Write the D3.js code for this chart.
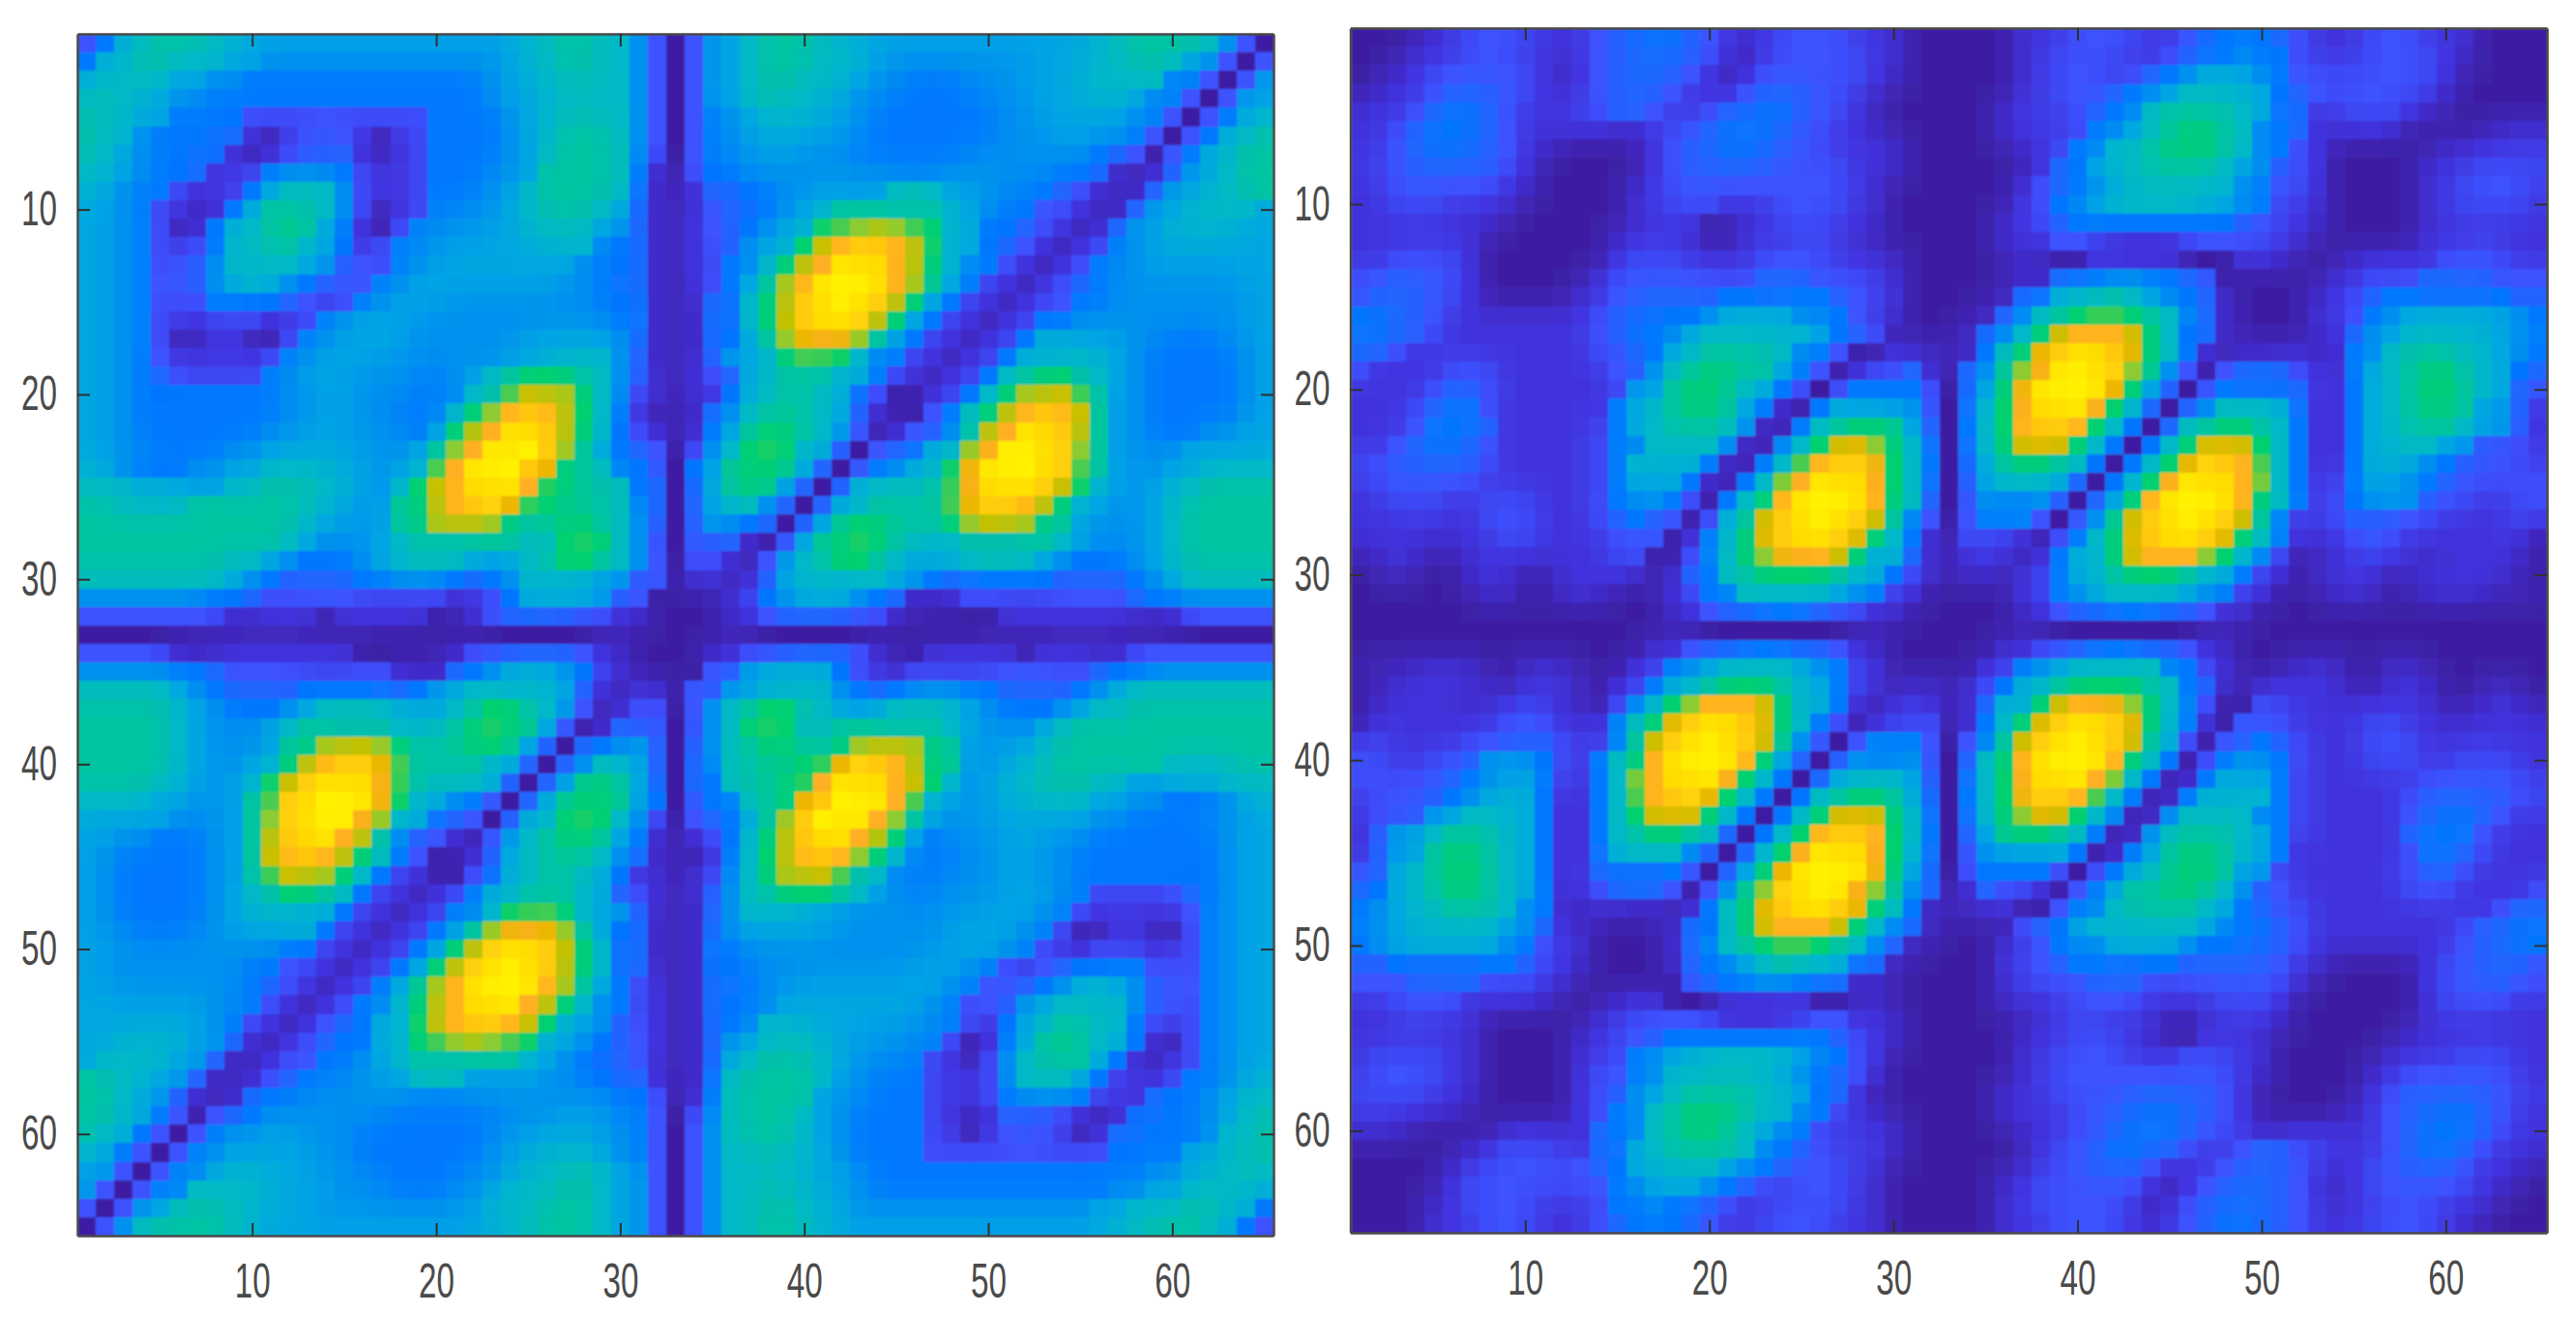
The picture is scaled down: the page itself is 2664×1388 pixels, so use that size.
<!DOCTYPE html>
<html>
<head>
<meta charset="utf-8">
<script src="https://cdn.jsdelivr.net/npm/d3@7"></script>
<style>
  html, body { margin: 0; background: #fff; }
  svg { display: block; }
  .tick text { font-family: "Liberation Sans", Arial, sans-serif; fill: #4a4a4a; }
</style>
</head>
<body>
<svg id="chart" width="2664" height="1388"></svg>
<script>
// colour levels, low to high
const levelColors = ["#3e1fa3", "#4032dc", "#3d52ff", "#2066ff", "#0078ff", "#0090f0", "#00a6e2", "#00b8c8", "#00c4a0", "#00d070",
    "#48cc50", "#8ccc30", "#c8c000", "#e8b800", "#ffb020", "#ffc810", "#ffe000", "#ffff00"];
const tickValues = [10, 20, 30, 40, 50, 60];

// one string per image row, one level character (base 36) per cell, spaces only for reading
const leftRows = [
"2467888776666666 6666666677887752 0 2567888776666666 6666667788887520",
"4678877766555555 5555555677887752 0 2567888777655555 5556667788765202",
"6777766554444444 4444445667787752 0 2567887776554445 5566677777542025",
"7877655444444444 4444445667777752 0 2567877765544444 5556667765420256",
"8776644442222222 2224444567787752 0 2456777665444444 4556666654202467",
"8775444431012221 0124444567888752 0 2456666655444444 4555665542024678",
"8765444310123331 0124444567888752 0 2455665554444445 5555554320246788",
"7765443112455542 1124445568888741 0 2445555555555555 5555443101356788",
"7654421124677752 1124445678888741 0 1334455666677766 5544321013567788",
"6654210146888752 0124555678887631 0 1233456788888876 5442210135677776",
"6654201467898641 0245556677776531 0 12345679abcba976 4432101356777766",
"6654212477887641 2455666667775431 0 1235679ceffec976 4321012456666666",
"6654223577776532 2456666666654431 0 124579cegggec975 4210124556666666",
"6654223567654322 4566666666554431 0 12468beghhgeb864 2101234555555566",
"6654222444432124 5666555555554431 0 13479cfghgfc9642 1012244555555556",
"6654211222112456 6655555555555441 0 13479cfggfc96421 0124455555555566",
"6654200110024566 6655555566666531 0 13468bdedb864210 1246666655444556",
"6654211111245666 6555555667777531 0 135679aa97542101 2467777654444456",
"6654322222456665 5554567899987531 0 1236788876421012 4789987654444456",
"6654444444455665 5544578accb97521 0 1146788764200124 79bcca8654444456",
"6654444444455665 544579befec97410 0 1357888763100247 9cefec8654444456",
"6654444444556665 55469ceggfc97421 0 1468998752012358 ceggfc8654445566",
"6655444455666666 5568begghfb86432 0 2579a9763023467b eghgfb8655566666",
"7654445566777766 567aeghhfd987542 0 468998630245679d ghhgfa8655667777",
"7776666677888776 579cegggea988743 0 36898630367778ae gggfc97656778888",
"8877778888887765 689ceffda9888753 0 36775303678888ad ffec976556788888",
"8888888888887665 689bccb988998753 0 355430368998889b ccb9865556788888",
"8888888888876555 67888888779a9752 0 233102689a987778 8888765556788888",
"8888888877654445 6777766678998752 0 2210257899876667 7776544456788888",
"7777777765433334 4555434577776532 0 1101367777765434 4444333345677777",
"5555555443222222 2222112466665320 0 0012456665431112 2222222234455555",
"2222222211111011 1110012333322110 0 0011233332210000 0111111111122222",
"0000000000000000 0000000000000000 0 0000000000000000 0000000000000000",
"2222211111111110 0000122333321100 0 0112233332100111 1101111122222222",
"5555544322222222 2111345666542100 0 0235666642112222 2222223445555555",
"7777765433334444 4345677777631011 0 2356777754345554 4333345677777777",
"8888876544456777 7666789987520122 0 2578998766677776 5444567788888888",
"8888876555678888 877789a986201332 0 2579a97788888876 5556788888888888",
"8888876555689bcc b988899863034553 0 357899889bccb986 5667888888888888",
"888887655679ceff da88887630357763 0 3578889adffec986 5677888888777788",
"88887765679cfggg ea87776303689863 0 347889aegggec975 6778887766666777",
"7777665568afghhg d976542036899864 0 245789dfhhgea765 6677776655444567",
"6666655568bfghge b7643203679a9752 0 23468bfhggeb8655 6666665544445566",
"6655444568cfggec 8532102578998641 0 12479cfggec96455 5666554444444566",
"6544444568cefec9 7420013678887531 0 01479cefeb975445 5665544444444566",
"6544444568accb97 4210024678876411 0 12579bcca8754455 5665544444444566",
"6544444567899874 2101246788876321 0 1357899987654555 5666542222234566",
"6544444567777642 10124579aa976531 0 1357777665555556 6665421111124566",
"6554445566666421 012468bdedb86431 0 1356666655555566 6654200110024566",
"6655555555544210 12469cfggfc97431 0 1445555555555566 6542112221124566",
"6555555554422101 2469cfghgfc97431 0 1344555555556665 4212344442224566",
"6655555554321012 468beghhgeb86421 0 1344556666666654 2234567653224566",
"6666666554210124 579cegggec975421 0 1344566666666542 2356777753224566",
"6666666542101234 679ceffec9765321 0 1345777666665542 1467887742124566",
"6677776531012344 679abcba97654321 0 1356777766555420 1468987641024566",
"6777765310122445 6788888876543321 0 1367888765554210 2578886410124566",
"8877653101234455 6677766665544331 0 1478888765444211 2577764211244567",
"8876531013445555 5555555555555442 0 1478888655444211 2455542113445677",
"8876420234555555 5444444555665542 0 2578887654444210 1333210134445678",
"8764202455665554 4444445566666542 0 2578887654444210 1222101344445778",
"7642024566666554 4444445667776542 0 2577877654444222 2222222444466778",
"6520245677666555 4444455677787652 0 2577777665444444 4444444445567787",
"5202457777766655 5444556777887652 0 2577877665444444 4444444556677776",
"2025678877666555 5555567778887652 0 2577887765555555 5555556677788764",
"0257888877666666 6666666778887652 0 2577887766666666 6666666778887642"
];

const rightRows = [
"0000112222111233 4432111222211100 0 0001112222112344 4321112221110000",
"0001112221111233 4332101222221100 0 0001122221123445 4421112222110000",
"0011222222101233 3321012222221100 0 0001122212345666 5422222222100000",
"0111233322111233 3211123332211000 0 0001122234567777 6432222221100000",
"1112344321112233 2112334432210000 0 0011212345788887 6431122211000000",
"1123444321111111 1223444322111000 0 0011112456789987 5431111100000111",
"1123443321100000 1233443322111100 0 0001124577899987 5421000000111111",
"1223333321000000 1233333222211100 0 0000134677888876 5321000001112222",
"1122222211000001 1222222222211000 0 0001234567777775 4221000001122221",
"1122211110000001 1222111222211000 0 0001245677777665 4211000001122221",
"1111111100000001 1110011222111000 0 0011234444444443 2211000001111111",
"1111111000000011 1110011112110000 0 0011122211112222 2110000001112111",
"1122221000000012 2211112222111100 0 0001000111110001 1100011111222211",
"2233221000000122 2222223332221100 0 0001134455443200 0000112223333222",
"2333221000001123 3333444444322100 0 0013467787654310 0001123444444433",
"4433211111111233 4445666655421100 0 0135789aa9875310 0001124566666654",
"4433211111111234 4567777776432000 0 13579ceeec974310 0001135677777654",
"3321111111111223 4678888754200111 0 1479dfggfd974101 1110145788877654",
"2111122211111123 5789988642012231 0 358beghgfb852023 3321146789987643",
"1111233211111125 6899876420244442 0 369dghhgd9630244 4431146789987632",
"1112344211111146 7899864104666652 0 479eggge97303577 7641146789986531",
"1112444311111246 7888751047899863 0 479effe974037899 8741146788876531",
"1123443211111245 7777510579cdb974 0 479cdc9740479cdc 9741146777653221",
"2233333211111247 77641047aeffd974 0 368998740479dffe a741146765432221",
"1222222111111246 6641047beggge974 0 36777630479eggge b741246654322222",
"1122211222111245 5420479eghhge973 0 2555530369eghhge 9741245553221122",
"1111111222111234 320268cfghgfc852 0 244420258cfghgfc 8521233322111121",
"1111111122111122 201479dfggfd9741 0 222102479dfggfd9 7411122211111110",
"0111001111111122 002579bdeec97631 0 111014679ceeeb97 5200112110111110",
"0010001110011111 0134789999876421 0 1101246789998764 2101111011111100",
"0000000110011100 0124577777654210 0 0001245677776542 1000111001111010",
"0000000000000000 0112334443221100 0 0001123344433211 0000000000000000",
"0000000000000000 0000000000000000 0 0000000000000000 0000000000000000",
"0000000000000000 1123344433211000 0 0011223444332110 0000000000000000",
"0101111001110001 2456777765421000 0 0124567777754210 0011100110000000",
"0011111101111012 4678999876421011 0 1246789999874310 1111100111000100",
"0111110112110025 79beeec976410111 0 13679ceedb975200 2211111111001110",
"0111111122211147 9dfggfd974201222 0 1479dfggfd974102 2211112211111111",
"1211112233321258 cfghgfc852024442 0 258cfghgfc862023 4321112221111111",
"2211223555421479 eghhge9630355552 0 379eghhge9740245 5421112221122211",
"222223456642147b eggge97403677763 0 479egggeb7401466 6421111112222221",
"122234567641147a effd974047899863 0 479dffea74014677 7421111123333322",
"1223567776411479 cdc9740479cdc974 0 479bdc9750157777 5421111123443211",
"1356788876411478 998730479effe974 0 3689987401578887 6421111134442111",
"1356899876411467 77530379eggge974 0 2566664014689987 6411111124432111",
"2367899876411344 4420369dghhgd963 0 2444420246789986 5211111123321111",
"3467899876411233 320258bfghgeb853 0 1322102468899875 3211111122211112",
"4567788875410111 101479dfggfd9741 0 1110024578888764 3221111111111233",
"4567777765311000 013479ceeec97531 0 0002346777777654 4321111111123344",
"4566666654211000 0135789aa9875310 0 0011245566665444 3321111111123344",
"3344444443211000 0134567877643100 0 0012234444443333 3211000001223332",
"2223333222110000 0023445544311000 0 0011222333222222 2210000001223322",
"1122221111100011 1000111110001000 0 0011112222111122 2100000001222211",
"1112111000000112 2222111122211100 0 0000112111100111 1100000001111111",
"1111111000001122 3444444444321100 0 0001112221100111 1000000011111111",
"1222211000001124 5667777765421000 0 0001122221112221 1000000111122211",
"1222211000001224 5777777654321000 0 0001122222222221 1000001122222211",
"2222111000001235 6788887764310000 0 0011122223333321 0000001233333221",
"1111110000001245 7899987754211000 0 0011112233443321 0000011233443211",
"1110000011111345 7899876542111100 0 0001112234443221 1111111234443211",
"0000001122211346 7888875432121100 0 0000122344332112 3322111234432111",
"0000011222222346 7777654322211000 0 0001122333211123 3321112233321110",
"0000012222222245 6665432122211000 0 0011222222101233 3321012222221100",
"0000112222111244 5443211222211000 0 0011222221012334 3321111222111000",
"0000111222111234 4432112222111000 0 0011122221112344 3321112222110000"
];

const svg = d3.select("#chart");
const color = d3.scaleLinear().domain(d3.range(levelColors.length)).range(levelColors);

// the reference is a blurry screenshot, so soften the cells a little
svg.append("defs").append("filter").attr("id", "soft")
    .attr("x", 0).attr("y", 0).attr("width", 1).attr("height", 1)
    .append("feGaussianBlur").attr("stdDeviation", 0.9).attr("edgeMode", "duplicate");

function parseRows(rows) {
    return rows.map(r => Array.from(r.replace(/ /g, ""), ch => parseInt(ch, 36)));
}

// levels were read in whole steps; for colouring only, ease a cell towards neighbours
// that are within one step so the steps don't show. Bigger jumps stay sharp.
function easeSteps(grid, r, c) {
    let sum = 0, total = 0;
    for (let dr = -1; dr <= 1; dr++) {
        for (let dc = -1; dc <= 1; dc++) {
            const v = grid[r + dr]?.[c + dc];
            if (v === undefined || Math.abs(v - grid[r][c]) > 1) continue;
            const w = (2 - Math.abs(dr)) * (2 - Math.abs(dc));
            sum += w * v;
            total += w;
        }
    }
    return sum / total;
}

function drawPanel(id, rows, left, right, top, bottom) {
    const grid = parseRows(rows);
    const cells = grid.flatMap((row, r) => row.map((v, c) => ({ r: r + 1, c: c + 1, v, shade: easeSteps(grid, r, c) })));
    const x = d3.scaleLinear().domain([0.5, 65.5]).range([left, right]);
    const y = d3.scaleLinear().domain([0.5, 65.5]).range([top, bottom]);
    const g = svg.append("g");

    g.append("clipPath").attr("id", id).append("rect")
        .attr("x", left).attr("y", top).attr("width", right - left).attr("height", bottom - top);

    g.append("g").attr("clip-path", `url(#${id})`)
        .append("g").attr("filter", "url(#soft)")
        .selectAll("rect")
        .data(cells).enter().append("rect")
        .attr("x", d => x(d.c - 0.5)).attr("y", d => y(d.r - 0.5))
        .attr("width", d => x(d.c + 0.5) - x(d.c - 0.5) + 0.6)
        .attr("height", d => y(d.r + 0.5) - y(d.r - 0.5) + 0.6)
        .attr("shape-rendering", "crispEdges")
        .attr("fill", d => color(d.shade));

    // box with inward ticks on all four sides, labels only on left and bottom
    const axes = [
        { axis: d3.axisLeft(y), at: `translate(${left},0)`, labels: true, pad: 21 },
        { axis: d3.axisBottom(x), at: `translate(0,${bottom})`, labels: true, pad: 28 },
        { axis: d3.axisTop(x), at: `translate(0,${top})`, labels: false, pad: 21 },
        { axis: d3.axisRight(y), at: `translate(${right},0)`, labels: false, pad: 21 }
    ];
    axes.forEach(a => {
        const ag = g.append("g").attr("transform", a.at)
            .call(a.axis.tickValues(tickValues).tickSizeInner(-13).tickSizeOuter(0).tickPadding(a.pad)
                .tickFormat(a.labels ? d3.format("d") : ""));
        ag.select(".domain").attr("stroke", "#484848").attr("stroke-width", 2.5);
        ag.selectAll(".tick line").attr("stroke", "#303030").attr("stroke-width", 2);
        // the screenshot was squeezed sideways, so the digits are narrow
        ag.selectAll(".tick text").attr("font-size", 50).attr("textLength", 37).attr("lengthAdjust", "spacingAndGlyphs");
    });
}

drawPanel("clip-left", leftRows, 80, 1317, 35, 1278);
drawPanel("clip-right", rightRows, 1396.5, 2634, 29, 1275);
</script>
</body>
</html>
